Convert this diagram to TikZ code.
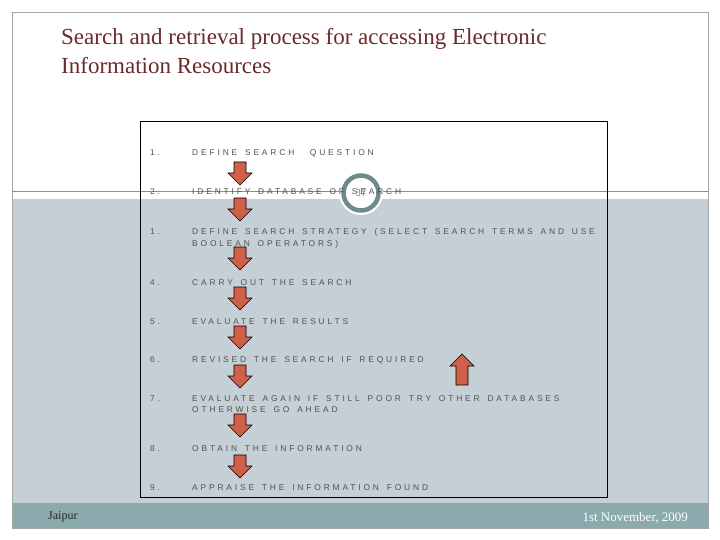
\documentclass[tikz,border=0pt]{standalone}
\usepackage{fontspec}
\setmainfont{Liberation Serif}
\newfontfamily\stepfont[LetterSpace=34,WordSpace=1.5]{Liberation Sans}
\begin{document}
\begin{tikzpicture}[x=1pt,y=-1pt,
  steptxt/.style={anchor=base west,inner sep=0pt,font=\stepfont\fontsize{8.4}{11}\selectfont,text=black!68,align=left},
  blockarrow/.style={fill=arrowc,draw=black,line width=0.6pt},
  pics/darrow/.style={code={\draw[blockarrow] (-6,0)--(6,0)--(6,11)--(12,11)--(0,23)--(-12,11)--(-6,11)--cycle;}},
  pics/uarrow/.style={code={\draw[blockarrow] (-6,31)--(6,31)--(6,12)--(12,12)--(0,0)--(-12,12)--(-6,12)--cycle;}}]
\definecolor{slidebg}{HTML}{C5CFD6}
\definecolor{band}{HTML}{8AAAAD}
\definecolor{titlec}{HTML}{6B2B2B}
\definecolor{arrowc}{HTML}{D0604A}
\definecolor{ringc}{HTML}{6E8A8A}
\useasboundingbox (0,0) rectangle (720,540);
\fill[white] (0,0) rectangle (720,540);
\fill[slidebg] (12,199) rectangle (708,503);
\fill[band] (12,503) rectangle (708,528);
\draw[black!35] (12,12) rectangle (708,528);
\draw[black!45] (12,191) -- (708,191);
\node[anchor=base west,inner sep=0pt,text=titlec,font=\fontsize{23}{29}\selectfont,align=left] (title) at (61,74) {Search and retrieval process for accessing Electronic\\Information Resources};
\node[anchor=base west,inner sep=0pt,font=\fontsize{12}{12}\selectfont,text=black!85] (jaipur) at (48,519) {Jaipur};
\node[anchor=base east,inner sep=0pt,font=\fontsize{13}{12}\selectfont,text=white] (date) at (688,521) {1st November, 2009};
\draw[black,line width=0.9pt] (140,121) rectangle (607,497);
\fill[white] (361,193) circle (22);
\draw[ringc,line width=4.5pt] (361,193) circle (17.5);
\node[inner sep=0pt,font=\fontsize{11}{12}\selectfont\sffamily,text=gray] (pg) at (361,193) {37};
\foreach \n/\y/\t in {1/156/1.,2/195/2.,3/235/1.,4/285/4.,5/324/5.,6/362/6.,7/401/7.,8/451/8.,9/490/9.}
  \node[steptxt] (n\n) at (150,\y) {\t};
\node[steptxt] (s1) at (192,156) {DEFINE SEARCH\ \ QUESTION};
\node[steptxt] (s2) at (192,195) {IDENTIFY DATABASE OF SEARCH};
\node[steptxt] (s3) at (192,246) {DEFINE SEARCH STRATEGY (SELECT SEARCH TERMS AND USE\\BOOLEAN OPERATORS)};
\node[steptxt] (s4) at (192,285) {CARRY OUT THE SEARCH};
\node[steptxt] (s5) at (192,324) {EVALUATE THE RESULTS};
\node[steptxt] (s6) at (192,362) {REVISED THE SEARCH IF REQUIRED};
\node[steptxt] (s7) at (192,412) {EVALUATE AGAIN IF STILL POOR TRY OTHER DATABASES\\OTHERWISE GO AHEAD};
\node[steptxt] (s8) at (192,451) {OBTAIN THE INFORMATION};
\node[steptxt] (s9) at (192,490) {APPRAISE THE INFORMATION FOUND};
\foreach \y in {162,198,247,287,326,365,414,455} \pic at (240,\y) {darrow};
\pic at (462,354) {uarrow};
\end{tikzpicture}
\end{document}
